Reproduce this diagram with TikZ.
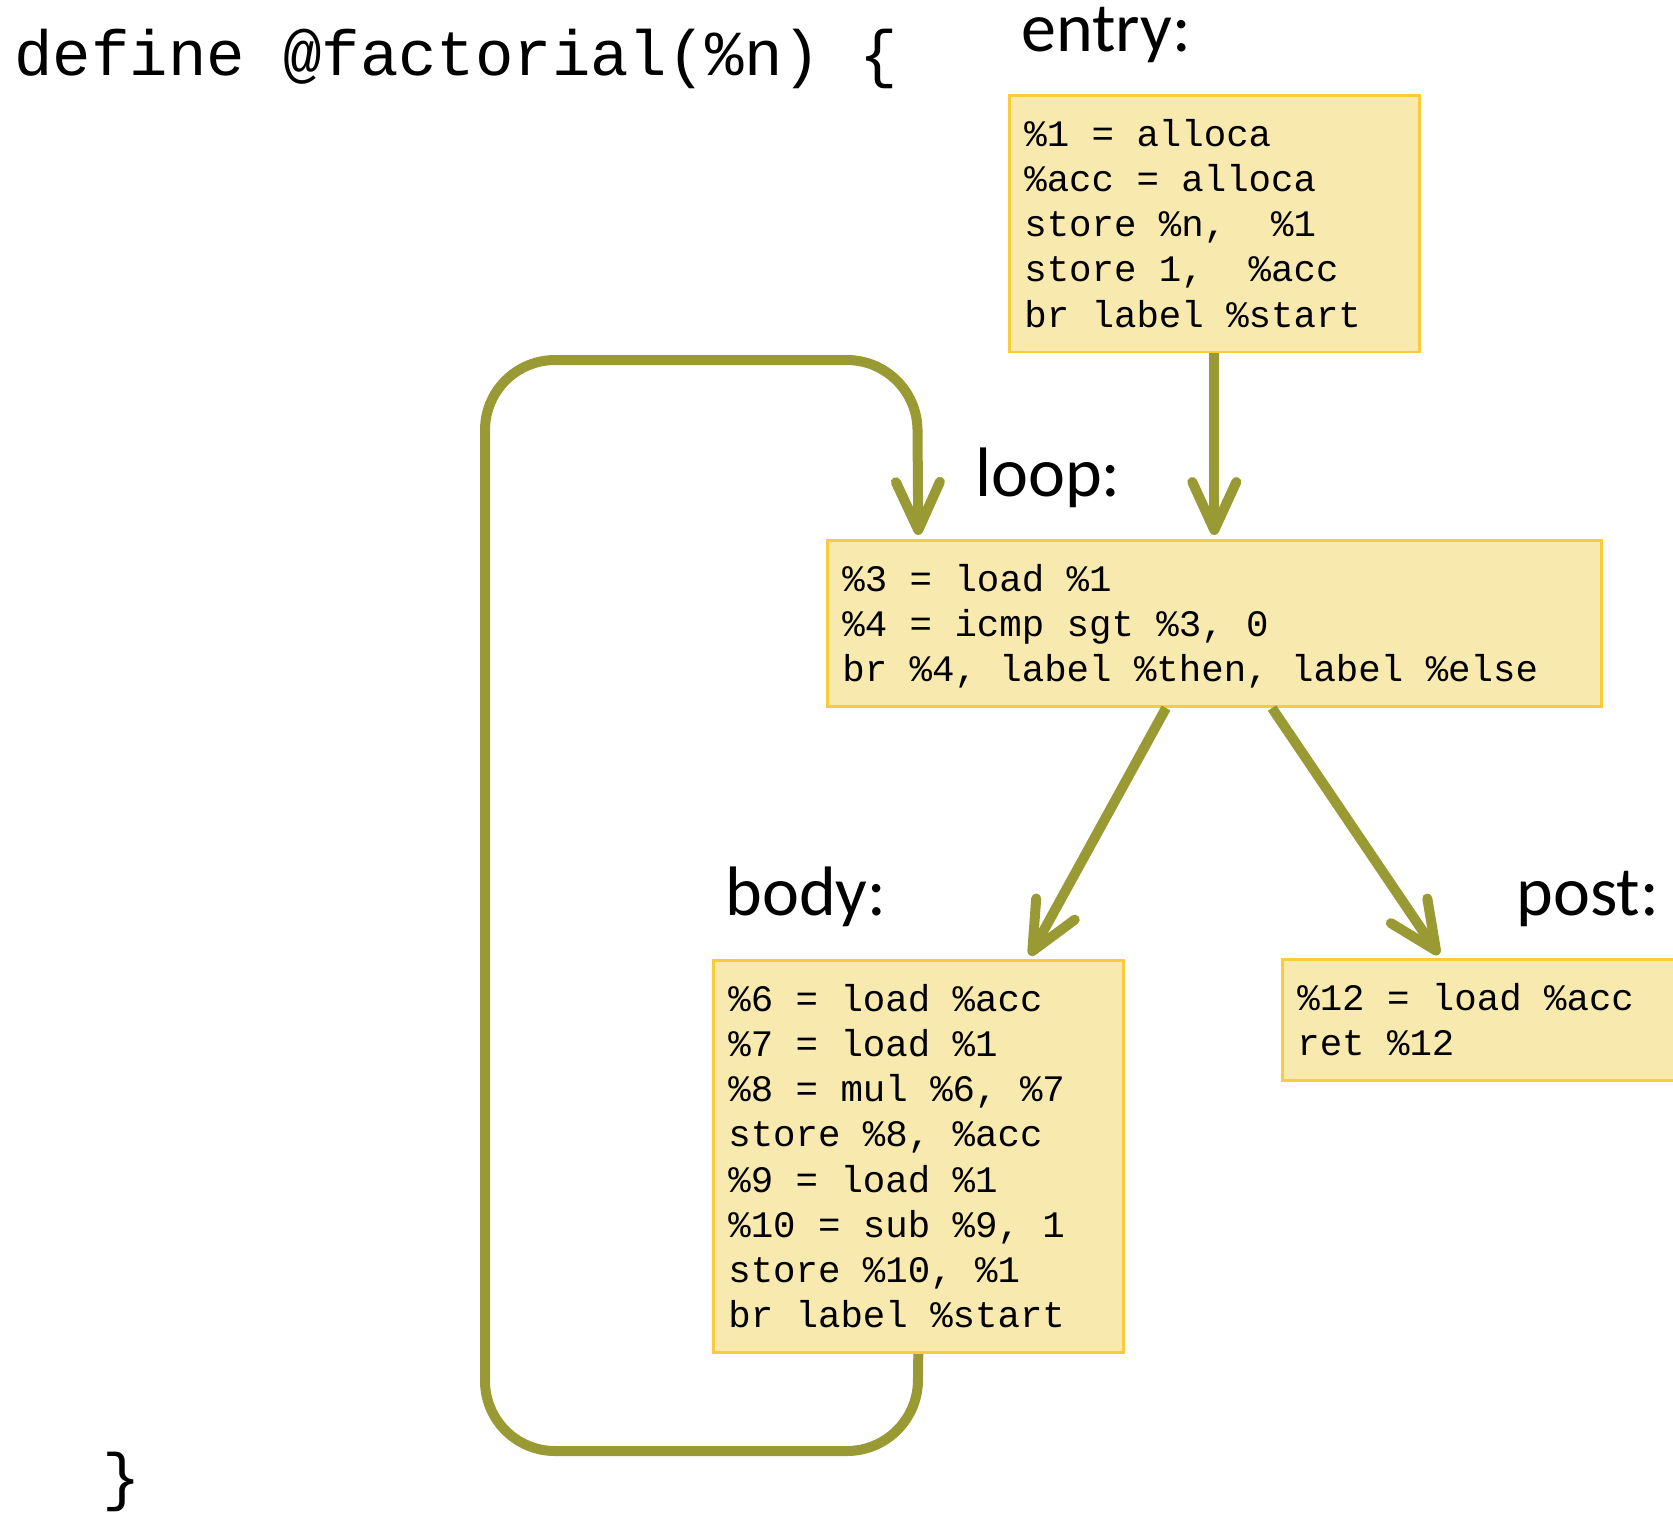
\documentclass[tikz,border=0pt]{standalone}
\usepackage{fontspec}
\setmonofont{Liberation Mono}[WordSpace={1,0,0}]
\newfontfamily\labfont{Carlito}
\usetikzlibrary{arrows.meta,calc}
\definecolor{flowcol}{RGB}{154,154,52}
\definecolor{boxfill}{RGB}{248,233,174}
\definecolor{boxline}{RGB}{251,204,58}
\newcommand{\monosp}{\spaceskip=0.6em\relax\xspaceskip=0.6em\relax}
\newcommand{\firstl}{\monosp\rule{0pt}{20.5pt}}
\newcommand{\lastl}{\rule[-7.5pt]{0pt}{7.5pt}}
\tikzset{
  codebox/.style={draw=boxline, fill=boxfill, line width=1.3pt, anchor=north west,
    inner xsep=7.5pt, inner ysep=5pt, align=flush left,
    font=\ttfamily\fontsize{18.7pt}{22.6pt}\selectfont\monosp},
  blocklab/.style={anchor=base west, inner sep=0pt, font=\labfont\fontsize{35pt}{40pt}\selectfont},
  codetitle/.style={inner sep=0pt, font=\ttfamily\fontsize{32pt}{38pt}\selectfont\monosp},
  flow/.style={draw=flowcol, line width=5pt, -{Straight Barb[length=24pt,width=22pt,round]}, shorten >=2pt}
}
\begin{document}
\begin{tikzpicture}[x=0.5pt,y=-0.5pt]
\useasboundingbox (0,0) rectangle (1673,1512);
% title and closing brace
\node[codetitle, anchor=base west] (head) at (14,75) {define @factorial(\%n) \{};
\node[codetitle, anchor=base] (close) at (122,1498) {\}};
% labels
\node[blocklab] (entrylab) at (1021,51) {entry:};
\node[blocklab] (looplab) at (975,496) {loop:};
\node[blocklab] (bodylab) at (725,915) {body:};
\node[blocklab] (postlab) at (1516,915) {post:};
% boxes
\node[codebox, text width=190pt] (entry) at (1008,94) {\firstl\%1 = alloca\\
\%acc = alloca\\
store \%n,\ \ \%1\\
store 1,\ \ \%acc\\
br label \%start\lastl};
\node[codebox, text width=372pt] (loop) at (826,539) {\firstl\%3 = load \%1\\
\%4 = icmp sgt \%3, 0\\
br \%4, label \%then, label \%else\lastl};
\node[codebox, text width=190pt] (body) at (712,959) {\firstl\%6 = load \%acc\\
\%7 = load \%1\\
\%8 = mul \%6, \%7\\
store \%8, \%acc\\
\%9 = load \%1\\
\%10 = sub \%9, 1\\
store \%10, \%1\\
br label \%start\lastl};
\node[codebox, text width=205pt] (post) at (1281,958) {\firstl\%12 = load \%acc\\
ret \%12\lastl};
% connectors
\draw[flow] (entry.south) -- (entry.south |- loop.north);
\draw[flow, rounded corners=35pt] (body.south) -- (917,1451) -- (485,1451) -- (485,360) -- (917,360) -- (body.south |- loop.north);
\draw[flow] ($(loop.south west)+(340,0)$) -- ($(body.north west)+(316,0)$);
\draw[flow] ($(loop.south west)+(446,0)$) -- ($(post.north west)+(160,0)$);
\end{tikzpicture}
\end{document}
